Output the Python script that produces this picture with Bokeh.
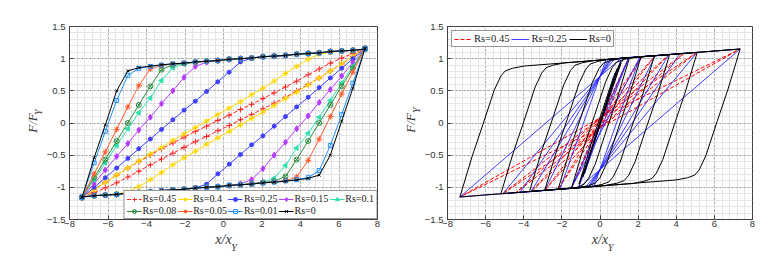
import math
from bokeh.plotting import figure
from bokeh.models import (Range1d, SingleIntervalTicker, FixedTicker, LinearAxis, Legend, LegendItem)
from bokeh.layouts import row
from bokeh.embed import file_html
from bokeh.resources import INLINE

# ---------------- left panel data (loading branch, from negative tip to positive tip) ----------------
x_grid = [-7.35, -6.72, -6.14, -5.55, -4.97, -4.40, -3.80, -3.22, -2.63, -2.05, -1.46, -0.88, -0.30,
          0.29, 0.88, 1.46, 2.05, 2.63, 3.22, 3.80, 4.40, 4.97, 5.55, 6.14, 6.72, 7.35]
top_tail = [0.99, 1.00, 1.01, 1.03, 1.04, 1.05, 1.07, 1.08, 1.09, 1.11, 1.12, 1.13, 1.15]

y_rs045 = [-1.16, -1.03, -0.92, -0.81, -0.70, -0.60, -0.50, -0.40, -0.31, -0.22, -0.13, -0.05, 0.04,
           0.12, 0.21, 0.29, 0.38, 0.47, 0.56, 0.65, 0.75, 0.84, 0.93, 1.01, 1.08, 1.15]
y_rs040 = [-1.16, -1.04, -0.92, -0.81, -0.70, -0.59, -0.48, -0.38, -0.27, -0.17, -0.07, 0.03, 0.13,
           0.23, 0.33, 0.44, 0.54, 0.65, 0.77, 0.88, 0.99, 1.07, 1.10, 1.12, 1.13, 1.15]
y_rs025 = [-1.16, -1.00, -0.85, -0.70, -0.55, -0.40, -0.25, -0.10, 0.05, 0.20, 0.34, 0.49, 0.64,
           0.79, 0.95, 1.01, 1.03, 1.04, 1.05, 1.07, 1.08, 1.09, 1.11, 1.12, 1.13, 1.15]
y_rs015 = [-1.16, -0.94, -0.73, -0.52, -0.32, -0.11, 0.09, 0.30, 0.50, 0.71, 0.88, 0.945, 0.97] + top_tail
y_rs010 = [-1.16, -0.88, -0.62, -0.35, -0.09, 0.16, 0.39, 0.66, 0.86, 0.92, 0.94, 0.96, 0.97] + top_tail
y_rs008 = [-1.16, -0.85, -0.57, -0.28, 0.00, 0.28, 0.57, 0.83, 0.905, 0.925, 0.945, 0.96, 0.97] + top_tail
y_rs005 = [-1.16, -0.79, -0.45, -0.10, 0.25, 0.58, 0.84, 0.895, 0.915, 0.93, 0.945, 0.96, 0.97] + top_tail
y_rs001 = [-1.16, -0.62, -0.13, 0.35, 0.74, 0.85, 0.88, 0.90, 0.92, 0.93, 0.95, 0.96, 0.97] + top_tail
y_rs000 = [-1.16, -0.54, -0.03, 0.50, 0.81, 0.86, 0.885, 0.905, 0.92, 0.93, 0.95, 0.96, 0.97] + top_tail

rs_labels = ["Rs=0.45", "Rs=0.4", "Rs=0.25", "Rs=0.15", "Rs=0.1",
             "Rs=0.08", "Rs=0.05", "Rs=0.01", "Rs=0"]
rs_loading = [y_rs045, y_rs040, y_rs025, y_rs015, y_rs010, y_rs008, y_rs005, y_rs001, y_rs000]

# ---------------- right panel data (response paths) ----------------
rx_045 = [0, 0.5, 0, -0.5, 0, 0.8, 0, -0.8, 0, 1.5, 0, -1.5, 0, 2.2, 0, -2.2, 0, 2.9, 0, -2.9, 0,
          3.6, 0, -3.6, 0, 4.4, 0, -4.4, 0, 5.1, 0, -5.1, 0, 7.35, 0, -7.35, 0]
ry_045 = [0, 0.48, -0.02, -0.48, 0.02, 0.75, -0.03, -0.75, 0.04, 1.01, -0.05, -1.01, 0.05, 1.03, -0.06,
          -1.03, 0.06, 1.05, -0.07, -1.05, 0.07, 1.06, -0.07, -1.06, 0.08, 1.08, -0.08, -1.08, 0.08,
          1.10, -0.08, -1.10, 0.08, 1.15, -0.08, -1.15, 0.08]

rx_025 = [0, 0.8, -0.8, 1.1, -1.1, 1.5, -1.5, 2.1, -0.32, -2.1, 0.32, 2.9, -0.44, -2.9, 0.44, 3.6,
          -0.54, -3.6, 0.54, 4.2, -0.63, -4.2, 0.63, 5.1, -0.77, -5.1, 0.77, 7.35, -1.1, -7.35, 1.1, 2.0]
ry_025 = [0, 0.78, -0.78, 0.98, -0.98, 1.01, -1.01, 1.03, -0.99, -1.03, 0.99, 1.05, -0.99, -1.05, 0.99,
          1.06, -0.99, -1.06, 0.99, 1.08, -0.995, -1.08, 0.995, 1.10, -1.0, -1.10, 1.0, 1.15, -1.005,
          -1.15, 1.005, 1.03]

rx_000 = [0, 0.9, -0.9, 0.5, 1.1, -0.5, -1.1,
          -0.47, 0.11, 0.7, 1.05, 1.3, 1.55,
          0.92, 0.34, -0.25, -0.6, -0.83, -1.2, -1.5,
          -0.87, -0.29, 0.3, 0.65, 0.88, 1.25, 2.15,
          1.52, 0.94, 0.35, 0.0, -0.23, -0.6, -1.2, -2.2,
          -1.57, -0.99, -0.4, -0.05, 0.18, 0.55, 1.15, 2.85,
          2.22, 1.64, 1.05, 0.7, 0.47, 0.1, -0.5, -2.9,
          -2.27, -1.69, -1.1, -0.75, -0.52, -0.15, 0.45, 3.65,
          3.02, 2.44, 1.85, 1.5, 1.27, 0.9, 0.3, -3.7,
          -3.07, -2.49, -1.9, -1.55, -1.32, -0.95, -0.35, 5.1,
          4.47, 3.89, 3.3, 2.95, 2.72, 2.35, 1.75, -5.2,
          -4.57, -3.99, -3.4, -3.05, -2.82, -2.45, -1.85, 7.35,
          6.72, 6.14, 5.55, 5.2, 4.97, 4.6, 4.0, -7.35,
          -6.72, -6.14, -5.55, -5.2, -4.97, -4.6, -4.0, 7.35]
ry_000 = [0, 0.84, -0.84, 0.47, 0.93, -0.47, -0.95,
          -0.33, 0.18, 0.71, 0.93, 1.0, 1.02,
          0.40, -0.11, -0.64, -0.86, -0.95, -1.0, -1.015,
          -0.395, 0.115, 0.645, 0.865, 0.945, 0.99, 1.03,
          0.41, -0.10, -0.63, -0.85, -0.93, -0.975, -1.005, -1.03,
          -0.41, 0.10, 0.63, 0.85, 0.93, 0.97, 1.005, 1.045,
          0.425, -0.085, -0.615, -0.835, -0.915, -0.955, -0.99, -1.045,
          -0.425, 0.085, 0.615, 0.835, 0.915, 0.955, 0.99, 1.065,
          0.445, -0.065, -0.595, -0.815, -0.895, -0.935, -0.97, -1.065,
          -0.445, 0.065, 0.595, 0.815, 0.895, 0.935, 0.97, 1.097,
          0.477, -0.033, -0.563, -0.783, -0.863, -0.903, -0.94, -1.10,
          -0.48, 0.03, 0.56, 0.78, 0.86, 0.90, 0.935, 1.15,
          0.53, 0.02, -0.51, -0.73, -0.81, -0.85, -0.885, -1.15,
          -0.53, -0.02, 0.51, 0.73, 0.81, 0.85, 0.885, 1.15]

x_ticks_step = 2
y_ticks_step = 0.5

# ---------------- styles ----------------
series_style = [
    dict(color="#ff2020", dash="4 2", marker="cross", size=6, fill=False),
    dict(color="#ffd700", dash="solid", marker="asterisk", size=6, fill=False),
    dict(color="#4040ff", dash="solid", marker="circle", size=4, fill=True),
    dict(color="#b83cff", dash="solid", marker="diamond", size=6, fill=True),
    dict(color="#30e0b0", dash="solid", marker="triangle", size=5, fill=True),
    dict(color="#2e8b3e", dash="solid", marker="circle_x", size=5, fill=False),
    dict(color="#ff5a2a", dash="solid", marker="asterisk", size=6, fill=False),
    dict(color="#1e90ff", dash="solid", marker="square", size=4, fill=False),
    dict(color="#000000", dash="solid", marker="x", size=4, fill=False),
]

SERIF = "Liberation Serif"
SANS = "Liberation Sans"
FIG_H = 265


def make_fig(width, bl, br, bt):
    p = figure(width=width, height=FIG_H, output_backend="svg", toolbar_location=None,
               x_range=Range1d(-8, 8), y_range=Range1d(-1.5, 1.5),
               min_border_left=bl, min_border_right=br, min_border_top=bt,
               min_border_bottom=FIG_H - bt - 194)
    xt = SingleIntervalTicker(interval=x_ticks_step, num_minor_ticks=5)
    yt = SingleIntervalTicker(interval=y_ticks_step, num_minor_ticks=5)
    p.xaxis.ticker = xt
    p.yaxis.ticker = yt
    p.xgrid.ticker = xt
    p.ygrid.ticker = yt
    p.yaxis.major_label_overrides = {-1: "-1", 0: "0", 1: "1"}
    for ax in (p.xaxis[0], p.yaxis[0]):
        ax.major_tick_in = 4
        ax.major_tick_out = 0
        ax.minor_tick_in = 0
        ax.minor_tick_out = 0
        ax.axis_line_color = "#404040"
        ax.major_tick_line_color = "#404040"
        ax.major_label_text_font = SANS
        ax.major_label_text_font_size = "9.5px"
        ax.major_label_text_color = "#333333"
        ax.axis_label_text_font = SERIF
        ax.axis_label_text_font_style = "italic"
        ax.axis_label_text_color = "#333333"
    p.xaxis.major_label_standoff = 1
    p.yaxis.major_label_standoff = 4
    p.xaxis.axis_label = "x/x"
    p.xaxis.axis_label_text_font_size = "14px"
    p.xaxis.axis_label_standoff = 2
    p.yaxis.axis_label = "F/F"
    p.yaxis.axis_label_text_font_size = "13px"
    p.yaxis.axis_label_standoff = 4
    for g in (p.xgrid[0], p.ygrid[0]):
        g.grid_line_color = "#a0a0a0"
        g.grid_line_dash = "2 2"
        g.minor_grid_line_color = "#e4e4e4"
    p.outline_line_color = "#404040"
    return p


def subscript_axis(p, pos, side, standoff, orientation):
    # an extra, line-less axis whose single tick label is the subscript "Y" of the axis title
    ax = LinearAxis(ticker=FixedTicker(ticks=[pos]), major_label_overrides={pos: "Y"},
                    axis_line_color=None, major_tick_line_color=None, minor_tick_line_color=None,
                    major_tick_in=0, major_tick_out=0, minor_tick_in=0, minor_tick_out=0,
                    major_label_text_font=SERIF, major_label_text_font_style="italic",
                    major_label_text_font_size="10px", major_label_text_color="#333333",
                    major_label_orientation=orientation)
    try:
        ax.major_label_standoff = standoff
    except Exception:
        ax.major_label_standoff = 0
    p.add_layout(ax, side)


# ---------------- left figure ----------------
p1 = make_fig(390, 69, 13, 25)
items = []
for lab, yl, st in zip(rs_labels, rs_loading, series_style):
    # the unloading branch is the point reflection of the loading branch (symmetric loops)
    xs = x_grid + [-v for v in x_grid]
    ys = yl + [-v for v in yl]
    lr = p1.line(xs, ys, line_color=st["color"], line_width=1, line_dash=st["dash"])
    kw = dict(marker=st["marker"], size=st["size"], line_color=st["color"], line_width=1)
    kw["fill_color"] = st["color"] if st["fill"] else None
    if st["marker"] == "triangle":
        kw["angle"] = math.pi / 2
    sr = p1.scatter(xs, ys, **kw)
    items.append(LegendItem(label=lab, renderers=[lr, sr]))

leg1 = Legend(items=items, location="bottom_right", orientation="horizontal", ncols=5,
              label_text_font=SERIF, label_text_font_size="10px", label_text_color="#222222",
              glyph_width=15, glyph_height=10, label_height=10, label_standoff=1, spacing=1,
              padding=2, margin=0, border_line_color="#333333", background_fill_alpha=1)
p1.add_layout(leg1)
subscript_axis(p1, 0.55, "below", -8, "horizontal")
subscript_axis(p1, 0.21, "left", -17, math.pi / 2)

# ---------------- right figure ----------------
p2 = make_fig(392, 57, 30, 26)
r_red = p2.line(rx_045, ry_045, line_color="#ff0000", line_width=1, line_dash="4 2")
r_blue = p2.line(rx_025, ry_025, line_color="#2020ff", line_width=1, line_alpha=0.85)
r_blk = p2.line(rx_000, ry_000, line_color="#000000", line_width=1)
leg2 = Legend(items=[LegendItem(label="Rs=0.45", renderers=[r_red]),
                     LegendItem(label="Rs=0.25", renderers=[r_blue]),
                     LegendItem(label="Rs=0", renderers=[r_blk])],
              location="top_left", orientation="horizontal",
              label_text_font=SERIF, label_text_font_size="10.5px", label_text_color="#222222",
              glyph_width=18, glyph_height=10, label_height=10, label_standoff=2, spacing=2,
              padding=2, margin=4, border_line_color="#333333", background_fill_alpha=1)
p2.add_layout(leg2)
subscript_axis(p2, 0.55, "below", -8, "horizontal")
subscript_axis(p2, 0.24, "left", -17, math.pi / 2)

layout = row(p1, p2)
open("out.html", "w").write(file_html(layout, INLINE))
